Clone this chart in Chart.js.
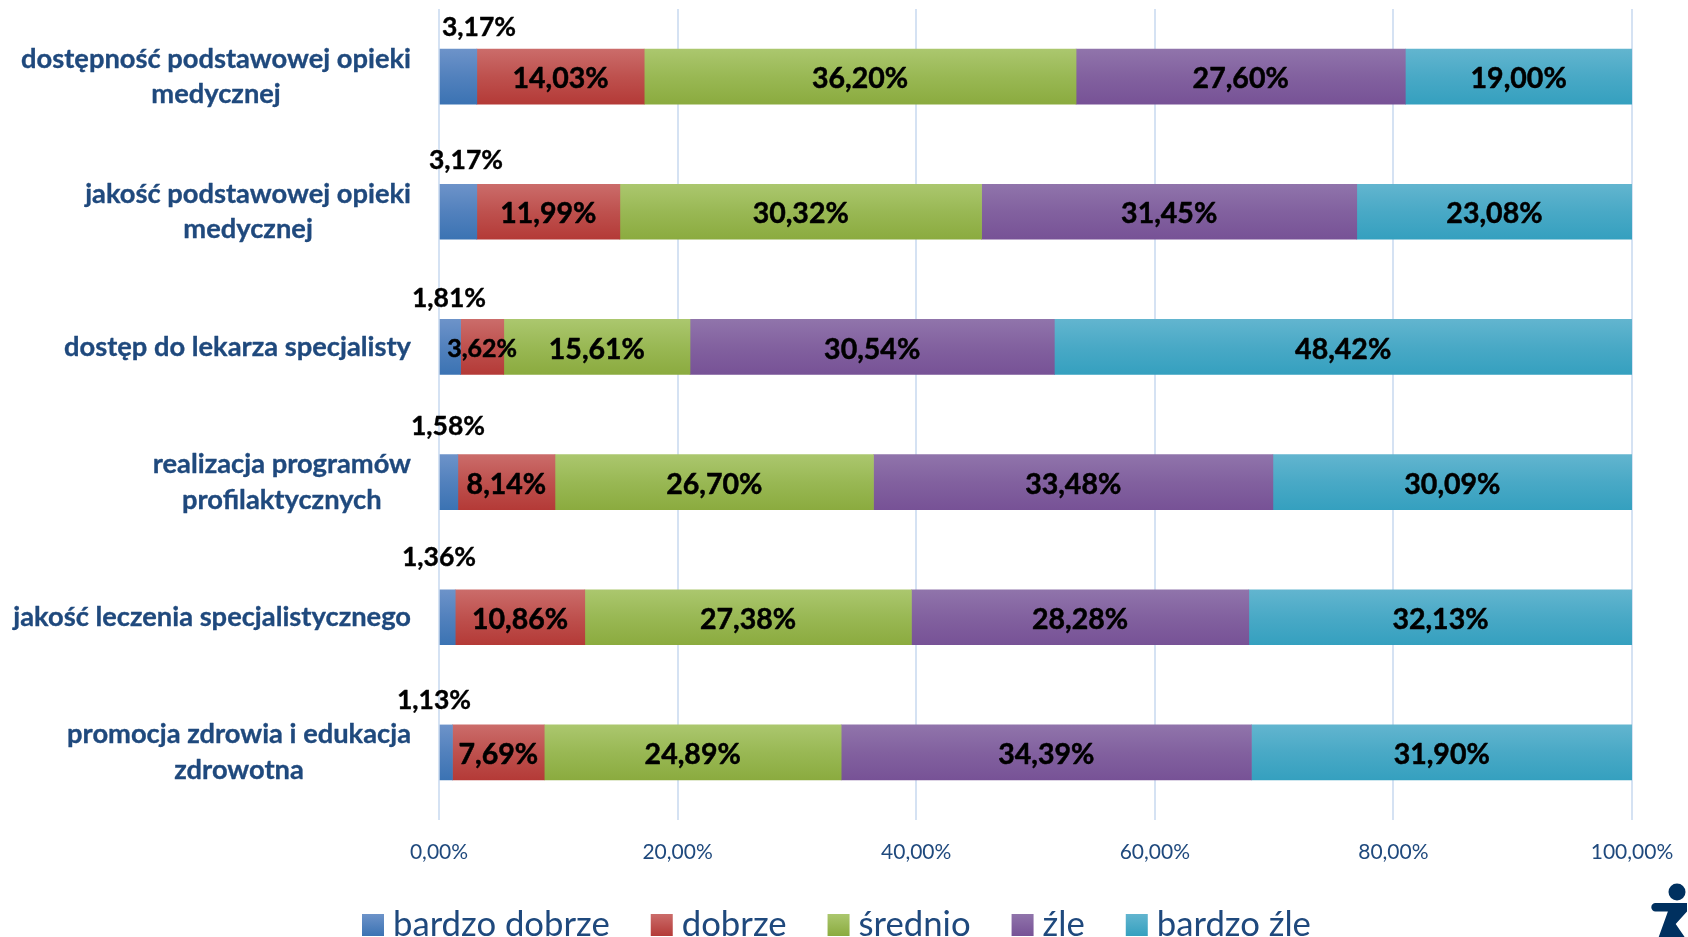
<!DOCTYPE html>
<html lang="pl">
<head>
<meta charset="utf-8">
<title>Ocena opieki zdrowotnej</title>
<script src="https://cdn.jsdelivr.net/npm/chart.js@4"></script>
<style>
html,body{margin:0;padding:0;background:#fff;overflow:hidden}
#wrap{position:relative;width:1688px;height:937px;overflow:hidden}
canvas{display:block}
#logo{position:absolute;left:1650px;top:882px}
</style>
</head>
<body>
<div id="wrap">
<canvas id="c" width="1688" height="937"></canvas>
<svg id="logo" width="40" height="57" viewBox="0 0 40 57" aria-hidden="true">
<circle cx="27" cy="10" r="8.5" fill="#00305f"/>
<path d="M5.5 21 H37 V29.4 L25.7 42 L36 57 H8 L17.9 29.4 H5.5 A4.2 4.2 0 0 1 5.5 21 Z" fill="#00305f"/>
</svg>
</div>
<script>
const categories = [
  ["dostępność podstawowej opieki", "medycznej"],
  ["jakość podstawowej opieki", "medycznej"],
  ["dostęp do lekarza specjalisty"],
  ["realizacja programów", "profilaktycznych"],
  ["jakość leczenia specjalistycznego"],
  ["promocja zdrowia i edukacja", "zdrowotna"]
];
const bardzoDobrze = [3.17, 3.17, 1.81, 1.58, 1.36, 1.13];
const dobrze       = [14.03, 11.99, 3.62, 8.14, 10.86, 7.69];
const srednio      = [36.20, 30.32, 15.61, 26.70, 27.38, 24.89];
const zle          = [27.60, 31.45, 30.54, 33.48, 28.28, 34.39];
const bardzoZle    = [19.00, 23.08, 48.42, 30.09, 32.13, 31.90];
const seriesNames  = ["bardzo dobrze", "dobrze", "średnio", "źle", "bardzo źle"];
const seriesValues = [bardzoDobrze, dobrze, srednio, zle, bardzoZle];
const xTicks = [0, 20, 40, 60, 80, 100];

const gradients = [
  ["#6d93c9", "#3b73b3"],
  ["#cb6c6a", "#b43a37"],
  ["#abc76e", "#8bab3f"],
  ["#9074ab", "#775296"],
  ["#62b5cf", "#35a0bf"]
];
const BAR_H = 55;
const fmt = v => v.toFixed(2).replace(".", ",") + "%";
// Outside labels of the first series: centre offset from the bar's left edge and from the bar's middle
const outerDx = [39, 26, 9, 8, -1, -6];
const outerDy = [-49, -51, -48, -56, -60, -52];

function mix(p) {
  const a = parseInt(p[0].slice(1), 16), b = parseInt(p[1].slice(1), 16);
  const ch = s => Math.round(((a >> s) & 255) * 0.45 + ((b >> s) & 255) * 0.55);
  return "rgb(" + ch(16) + "," + ch(8) + "," + ch(0) + ")";
}
function fill(ctx, i) {
  const chart = ctx.chart;
  if (ctx.type === "data" && chart.scales.y) {
    const mid = chart.scales.y.getPixelForValue(ctx.dataIndex);
    if (Number.isFinite(mid)) {
      const g = chart.ctx.createLinearGradient(0, mid - BAR_H / 2, 0, mid + BAR_H / 2);
      g.addColorStop(0, gradients[i][0]);
      g.addColorStop(0.5, mix(gradients[i]));
      g.addColorStop(1, gradients[i][1]);
      return g;
    }
  }
  return gradients[i][1];
}

const LABEL_FONT = "Lato, Carlito, sans-serif";
function boldText(c, s, x, y, w) {
  c.lineWidth = w;
  c.lineJoin = "round";
  c.strokeStyle = c.fillStyle;
  c.strokeText(s, x, y);
  c.fillText(s, x, y);
}
const labelsPlugin = {
  id: "labelsPlugin",
  afterDatasetsDraw(chart) {
    const c = chart.ctx, yS = chart.scales.y;
    c.save();
    c.textBaseline = "middle";
    // category labels: block right-aligned, lines centred inside the block
    c.fillStyle = "#1f497d";
    c.font = "700 27.3px " + LABEL_FONT;
    c.textAlign = "center";
    categories.forEach((lines, i) => {
      const w = Math.max(...lines.map(l => c.measureText(l).width));
      const cx = 411 - w / 2;
      const mid = yS.getPixelForValue(i);
      lines.forEach((l, k) => boldText(c, l, cx, mid + (k - (lines.length - 1) / 2) * 35.5, 0.35));
    });
    // value labels
    c.fillStyle = "#000";
    chart.data.datasets.forEach((ds, di) => {
      chart.getDatasetMeta(di).data.forEach((bar, i) => {
        const v = ds.data[i];
        if (di === 0) {
          c.font = "700 26.5px " + LABEL_FONT;
          boldText(c, fmt(v), bar.base + outerDx[i], bar.y + outerDy[i], 0.4);
        } else {
          c.font = "700 " + (di === 1 && v < 5 ? 25 : 28.5) + "px " + LABEL_FONT;
          boldText(c, fmt(v), (bar.base + bar.x) / 2, bar.y + 2.5, 0.5);
        }
      });
    });
    // legend row
    const boxTop = 914, boxSize = 22, textGap = 9, itemGap = 41;
    let x = 362;
    c.font = "400 34.7px " + LABEL_FONT;
    c.textAlign = "left";
    seriesNames.forEach((n, i) => {
      const g = c.createLinearGradient(0, boxTop, 0, boxTop + boxSize);
      g.addColorStop(0, gradients[i][0]);
      g.addColorStop(1, gradients[i][1]);
      c.fillStyle = g;
      c.fillRect(x, boxTop, boxSize, boxSize);
      c.fillStyle = "#1f497d";
      c.fillText(n, x + boxSize + textGap, boxTop + boxSize / 2);
      x += boxSize + textGap + c.measureText(n).width + itemGap;
    });
    c.restore();
  }
};

new Chart(document.getElementById("c"), {
  type: "bar",
  data: {
    labels: categories.map(l => l.join(" ")),
    datasets: seriesNames.map((name, i) => ({
      label: name,
      data: seriesValues[i],
      backgroundColor: ctx => fill(ctx, i),
      borderWidth: 0,
      barThickness: BAR_H
    }))
  },
  options: {
    indexAxis: "y",
    responsive: false,
    animation: false,
    layout: { padding: { left: 0, right: 56, top: 9, bottom: 0 } },
    scales: {
      x: {
        stacked: true,
        min: 0, max: 100,
        afterBuildTicks: s => { s.ticks = xTicks.map(v => ({ value: v })); },
        grid: { color: "#d5e2f3", lineWidth: 2, drawTicks: false },
        border: { display: false },
        ticks: {
          padding: 20,
          maxRotation: 0,
          color: "#1f497d",
          font: { family: LABEL_FONT, size: 21 },
          callback: v => v.toFixed(2).replace(".", ",") + "%"
        },
        afterFit: s => { s.height = 117; s.paddingRight = 0; s.paddingLeft = 0; }
      },
      y: {
        stacked: true,
        grid: { display: false },
        border: { display: false },
        ticks: { display: false },
        afterFit: s => { s.width = 439; }
      }
    },
    plugins: {
      tooltip: { enabled: false },
      legend: { display: false }
    }
  },
  plugins: [labelsPlugin]
});
</script>
</body>
</html>
